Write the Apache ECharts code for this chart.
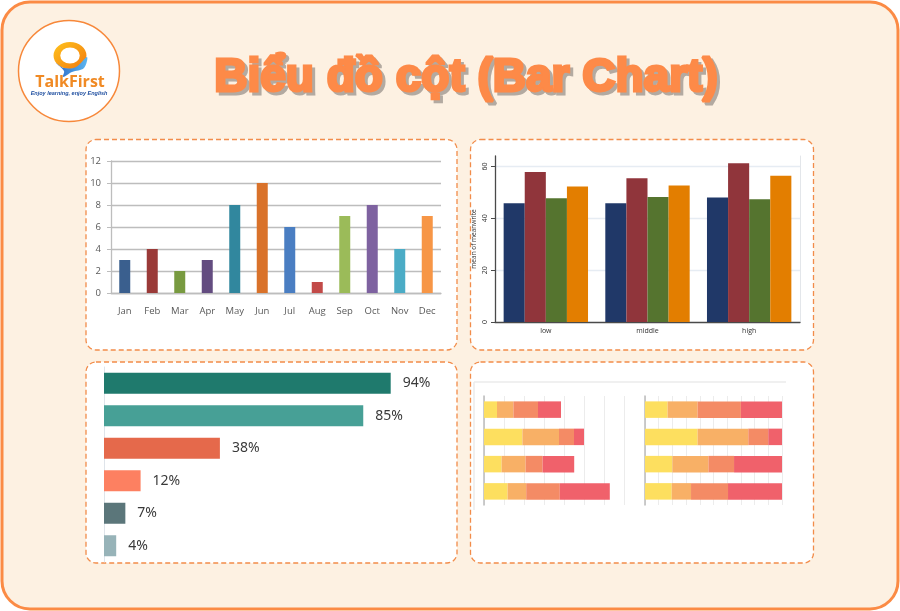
<!DOCTYPE html>
<html><head><meta charset="utf-8">
<script src="https://cdn.jsdelivr.net/npm/echarts@6/dist/echarts.min.js"></script>
<style>html,body{margin:0;padding:0;background:#fff}#c{width:900px;height:611px}</style>
</head><body><div id="c"></div>
<script>
// ---------- DATA ----------
// Chart 1 (top-left): monthly columns
const months = ['Jan','Feb','Mar','Apr','May','Jun','Jul','Aug','Sep','Oct','Nov','Dec'];
const monthValues = [3,4,2,3,8,10,6,1,7,8,4,7];
const monthTicks = [0,2,4,6,8,10,12];
// Chart 2 (top-right): grouped columns
const groups = ['low','middle','high'];
const navyValues = [45.8,45.8,48.0];
const maroonValues = [57.8,55.4,61.2];
const greenValues = [47.7,48.2,47.3];
const orangeValues = [52.2,52.6,56.4];
const groupTicks = [0,20,40,60];
const groupAxisTitle = 'mean of meanwrite';
// Chart 3 (bottom-left): horizontal percentage bars
const shareCategories = ['a','b','c','d','e','f'];
const shareValues = [94,85,38,12,7,4];
// Chart 4 (bottom-right): stacked bars, absolute and 100%
const stackRows = ['1','2','3','4'];
const absYellow = [6.5,19.2,8.8,11.8];
const absLightOrange = [8.2,18.3,12.0,9.3];
const absOrange = [12.3,7.5,8.5,16.8];
const absRed = [11.5,5.0,15.8,25.0];
const pctYellow = [16.5,38.4,20.0,19.5];
const pctLightOrange = [21.9,37.0,26.3,14.1];
const pctOrange = [31.6,14.6,18.7,27.0];
const pctRed = [30.0,10.0,35.0,39.4];
const titleText = 'Biểu đồ cột (Bar Chart)';

// ---------- STYLES ----------
const monthColors = ['#3a5f8e','#9a3a38','#789a40','#634c80','#31879e','#d9722a','#4a7ec2','#c24a48','#9bbb59','#7e62a0','#4bacc6','#f79646'];
const shareColors = ['#1f7a6d','#47a096','#e5694b','#fd8061','#5b767a','#97b3b8'];
const stackColors = ['#fddf5f','#f8b066','#f48b65','#f0616b'];
const groupColors = ['#203868','#90353b','#55742f','#e37e00'];

const chart = echarts.init(document.getElementById('c'), null, {renderer:'canvas'});

function panel(x,y,w,h){
  return {type:'rect', z:0, shape:{x:x,y:y,width:w,height:h,r:10},
    style:{fill:'#ffffff', stroke:'#f28c4a', lineWidth:1.3, lineDash:[5,3]}};
}

const graphics = [
  {type:'rect', z:-1, shape:{x:2,y:2,width:896,height:607,r:28},
    style:{fill:'#fdf1e2', stroke:'#fb8b45', lineWidth:3}},
  panel(86,139.5,371,210.5),
  panel(470.5,139.5,343,210.5),
  panel(86,362,371,201),
  panel(470.5,362,343,201),
  // faint frame lines in panel 4
  {type:'line', z:1, shape:{x1:474,y1:382,x2:786,y2:382}, style:{stroke:'#ebebeb', lineWidth:1.5}},
  {type:'line', z:1, shape:{x1:474,y1:382,x2:474,y2:510}, style:{stroke:'#ebebeb', lineWidth:1.5}},
  // logo
  {type:'circle', z:1, shape:{cx:69,cy:71,r:50.5}, style:{fill:'#ffffff', stroke:'#f7883a', lineWidth:1.5}},
  {type:'ring', z:2, x:70, y:55.5, scaleX:1.22, scaleY:1, shape:{cx:0,cy:0,r:13.5,r0:8},
    style:{fill:{type:'linear',x:0,y:0,x2:1,y2:1,colorStops:[{offset:0,color:'#ffc31c'},{offset:1,color:'#f27a10'}]}}},
  {type:'polygon', z:3, shape:{smooth:0.35, points:[[56,63],[64,68],[76,67],[87,57],[84,68],[72,72],[63,77],[64,71]]},
    style:{fill:{type:'linear',x:0,y:0,x2:1,y2:0,colorStops:[{offset:0,color:'#2a68c8'},{offset:1,color:'#5cb6f0'}]}}},
  {type:'text', z:3, style:{text:'TalkFirst', x:70, y:82, textAlign:'center', textVerticalAlign:'middle',
    fill:'#f08a24', font:'bold 16px "Open Sans", "Liberation Sans", sans-serif'}},
  {type:'text', z:3, style:{text:'Enjoy learning, enjoy English', x:69, y:93.5, textAlign:'center', textVerticalAlign:'middle',
    fill:'#1f4fa0', font:'italic bold 5.5px "Liberation Sans", sans-serif'}},
  // title shadow + title
  {type:'text', z:3, style:{text:titleText, x:469, y:81, textAlign:'center', textVerticalAlign:'middle',
    fill:'#b3aaa1', stroke:'#b3aaa1', lineWidth:3, font:'bold 46px "Liberation Sans", sans-serif'}},
  {type:'text', z:4, style:{text:titleText, x:466, y:78, textAlign:'center', textVerticalAlign:'middle',
    fill:'#fd8a48', stroke:'#fd8a48', lineWidth:3, font:'bold 46px "Liberation Sans", sans-serif'}}
];

const axisFont = '"Open Sans", "Liberation Sans", sans-serif';

const option = {
  animation:false,
  backgroundColor:'#ffffff',
  graphic: graphics,
  grid:[
    {left:111, top:161, width:330, height:132},
    {left:495, top:156, width:305, height:166},
    {left:104, top:367, width:305, height:195},
    {left:484, top:396, width:140, height:109},
    {left:645, top:396, width:137, height:109}
  ],
  xAxis:[
    {type:'category', gridIndex:0, data:months,
      axisLine:{lineStyle:{color:'#bdbdbd', width:1.3}}, axisTick:{show:false},
      axisLabel:{color:'#595959', fontSize:9.5, margin:13, fontFamily:axisFont}},
    {type:'category', gridIndex:1, data:groups,
      axisLine:{lineStyle:{color:'#4a4a4a', width:1.3}}, axisTick:{show:false},
      axisLabel:{color:'#333', fontSize:7, margin:5, fontFamily:axisFont}},
    {type:'value', gridIndex:2, min:0, max:100, show:false},
    {type:'value', gridIndex:3, min:0, max:70, interval:10,
      axisLine:{show:false}, axisTick:{show:false}, axisLabel:{show:false},
      splitLine:{lineStyle:{color:'#ececec', width:1}}},
    {type:'value', gridIndex:4, min:0, max:100, interval:10,
      axisLine:{show:false}, axisTick:{show:false}, axisLabel:{show:false},
      splitLine:{lineStyle:{color:'#ececec', width:1}}}
  ],
  yAxis:[
    {type:'value', gridIndex:0, min:monthTicks[0], max:monthTicks[monthTicks.length-1], interval:monthTicks[1]-monthTicks[0],
      axisLine:{show:true, lineStyle:{color:'#bdbdbd', width:1.3}},
      axisTick:{show:true, length:4, lineStyle:{color:'#bdbdbd'}},
      axisLabel:{color:'#595959', fontSize:9.5, margin:10, fontFamily:axisFont},
      splitLine:{lineStyle:{color:'#bdbdbd', width:1.3}}},
    {type:'value', gridIndex:1, min:0, max:64, interval:groupTicks[1]-groupTicks[0],
      name:groupAxisTitle, nameLocation:'middle', nameRotate:90, nameGap:17,
      nameTextStyle:{color:'#333', fontSize:6.5, fontFamily:axisFont},
      axisLine:{show:true, lineStyle:{color:'#4a4a4a', width:1.3}},
      axisTick:{show:true, length:4, lineStyle:{color:'#4a4a4a'}},
      axisLabel:{rotate:90, color:'#333', fontSize:7, margin:7, showMaxLabel:false, fontFamily:axisFont},
      splitLine:{show:true, showMinLine:false, showMaxLine:false, lineStyle:{color:'#e6ecf3', width:1.3}}},
    {type:'value', gridIndex:1, min:0, max:64, position:'right',
      axisLine:{show:true, lineStyle:{color:'#e3e6ea', width:1}},
      axisTick:{show:false}, axisLabel:{show:false}, splitLine:{show:false}},
    {type:'category', gridIndex:2, data:shareCategories, inverse:true,
      axisLine:{lineStyle:{color:'#dfe4ea', width:1}}, axisTick:{show:false}, axisLabel:{show:false}},
    {type:'category', gridIndex:3, data:stackRows, inverse:true,
      axisLine:{lineStyle:{color:'#bbbbbb', width:1.5}}, axisTick:{show:false}, axisLabel:{show:false}},
    {type:'category', gridIndex:4, data:stackRows, inverse:true,
      axisLine:{lineStyle:{color:'#bbbbbb', width:1.5}}, axisTick:{show:false}, axisLabel:{show:false}}
  ],
  series:[
    {type:'bar', xAxisIndex:0, yAxisIndex:0, barWidth:11,
      data: monthValues.map((v,i)=>({value:v, itemStyle:{color:monthColors[i]}}))},
    {type:'bar', xAxisIndex:1, yAxisIndex:1, data:navyValues, itemStyle:{color:groupColors[0]}, barGap:'0%', barCategoryGap:'17%'},
    {type:'bar', xAxisIndex:1, yAxisIndex:1, data:maroonValues, itemStyle:{color:groupColors[1]}, barGap:'0%', barCategoryGap:'17%'},
    {type:'bar', xAxisIndex:1, yAxisIndex:1, data:greenValues, itemStyle:{color:groupColors[2]}, barGap:'0%', barCategoryGap:'17%'},
    {type:'bar', xAxisIndex:1, yAxisIndex:1, data:orangeValues, itemStyle:{color:groupColors[3]}, barGap:'0%', barCategoryGap:'17%'},
    {type:'bar', xAxisIndex:2, yAxisIndex:3, barWidth:21,
      data: shareValues.map((v,i)=>({value:v, itemStyle:{color:shareColors[i]}})),
      label:{show:true, position:'right', distance:12, formatter:'{c}%', color:'#3a3a3a', fontSize:14,
        fontFamily:'"Noto Sans", "Open Sans", sans-serif'}},
    {type:'bar', stack:'a', xAxisIndex:3, yAxisIndex:4, barWidth:16.5, data:absYellow, itemStyle:{color:stackColors[0]}},
    {type:'bar', stack:'a', xAxisIndex:3, yAxisIndex:4, barWidth:16.5, data:absLightOrange, itemStyle:{color:stackColors[1]}},
    {type:'bar', stack:'a', xAxisIndex:3, yAxisIndex:4, barWidth:16.5, data:absOrange, itemStyle:{color:stackColors[2]}},
    {type:'bar', stack:'a', xAxisIndex:3, yAxisIndex:4, barWidth:16.5, data:absRed, itemStyle:{color:stackColors[3]}},
    {type:'bar', stack:'p', xAxisIndex:4, yAxisIndex:5, barWidth:16.5, data:pctYellow, itemStyle:{color:stackColors[0]}},
    {type:'bar', stack:'p', xAxisIndex:4, yAxisIndex:5, barWidth:16.5, data:pctLightOrange, itemStyle:{color:stackColors[1]}},
    {type:'bar', stack:'p', xAxisIndex:4, yAxisIndex:5, barWidth:16.5, data:pctOrange, itemStyle:{color:stackColors[2]}},
    {type:'bar', stack:'p', xAxisIndex:4, yAxisIndex:5, barWidth:16.5, data:pctRed, itemStyle:{color:stackColors[3]}}
  ]
};
chart.setOption(option);
</script>
</body></html>
